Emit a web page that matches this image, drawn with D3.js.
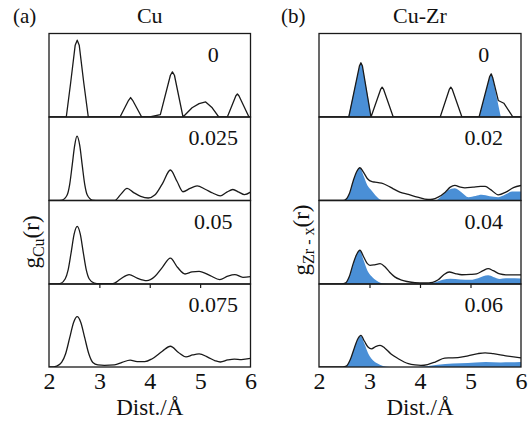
<!DOCTYPE html>
<html>
<head>
<meta charset="utf-8">
<script src="https://cdn.jsdelivr.net/npm/d3@7"></script>
<style>
  html, body { margin: 0; padding: 0; background: #fff; }
  svg { display: block; }
  text { font-family: "Liberation Serif", "Times New Roman", serif; fill: #111; }
</style>
</head>
<body>
<svg id="chart" width="531" height="424"></svg>
<script>
// ---- data: radial distribution functions, r in Å ----
const rDomain = [2, 6];
const xTicks = [2, 3, 4, 5, 6];

const cuLabels = ["0", "0.025", "0.05", "0.075"];
const cuZrLabels = ["0", "0.02", "0.04", "0.06"];

// g_Cu(r), one array per composition
const cuG0 = [[2,0],[2.343,0],[2.43,4.1],[2.52,8.6],[2.56,9.2],[2.6,8.6],[2.69,4.1],[2.78,0],[3.41,0],[3.58,2.0],[3.62,2.33],[3.66,2.0],[3.84,0],[4.0,0],[4.21,0.28],[4.41,5.0],[4.45,5.4],[4.49,5.0],[4.66,0],[4.84,1.1],[4.98,1.6],[5.11,1.8],[5.24,1.1],[5.37,0],[5.54,0],[5.71,2.55],[5.74,2.75],[5.77,2.55],[5.97,0],[6,0]];
const cuG1 = [[2,0],[2.15,0],[2.26,0.05],[2.36,0.65],[2.41,1.9],[2.46,4.2],[2.51,6.6],[2.556,7.7],[2.61,6.6],[2.66,4.2],[2.71,1.9],[2.76,0.65],[2.86,0.05],[3.0,0],[3.3,0],[3.42,0.7],[3.55,1.45],[3.68,0.95],[3.82,0.5],[3.97,0.3],[4.1,0.65],[4.25,2.0],[4.41,3.65],[4.54,2.3],[4.66,1.05],[4.8,1.45],[4.94,1.74],[5.1,1.35],[5.25,0.9],[5.4,0.55],[5.53,1.0],[5.65,1.32],[5.77,1.0],[5.88,0.7],[6.0,1.0]];
const cuG2 = [[2,0],[2.12,0],[2.22,0.05],[2.32,0.6],[2.38,1.7],[2.44,3.8],[2.5,6.0],[2.56,6.9],[2.62,6.0],[2.68,3.8],[2.74,1.7],[2.8,0.6],[2.9,0.1],[3.0,0.03],[3.27,0.05],[3.42,0.6],[3.59,1.13],[3.75,0.7],[3.94,0.4],[4.1,0.9],[4.25,2.0],[4.41,3.1],[4.55,2.0],[4.7,1.2],[4.84,1.45],[4.98,1.52],[5.2,1.0],[5.39,0.53],[5.55,0.95],[5.69,1.13],[5.85,0.8],[6.0,0.89]];
const cuG3 = [[2,0],[2.09,0],[2.15,0.1],[2.25,0.55],[2.33,1.6],[2.41,3.5],[2.49,5.4],[2.56,6.07],[2.63,5.4],[2.71,3.5],[2.79,1.6],[2.87,0.55],[2.97,0.25],[3.1,0.2],[3.3,0.25],[3.45,0.55],[3.61,0.84],[3.75,0.65],[3.9,0.65],[4.05,1.0],[4.25,1.9],[4.41,2.5],[4.57,1.75],[4.72,1.22],[4.85,1.45],[4.98,1.58],[5.15,1.2],[5.3,0.75],[5.4,0.6],[5.55,0.85],[5.68,0.96],[5.82,0.9],[6.0,1.03]];

// g_Zr-x(r): total (line) and partial contribution (filled)
const zrG0 = [[2,0],[2.59,0],[2.8,6.1],[2.83,6.5],[2.86,6.1],[3.03,0],[3.22,3.3],[3.25,3.57],[3.28,3.3],[3.47,0],[4.40,0],[4.58,3.3],[4.61,3.57],[4.64,3.3],[4.83,0],[5.17,0],[5.38,4.85],[5.41,5.17],[5.44,4.7],[5.55,1.98],[5.66,1.65],[5.84,0],[6,0]];
const zrP0 = [[2,0],[2.58,0],[2.8,6.1],[2.83,6.5],[2.86,6.1],[3.04,0],[5.17,0],[5.38,4.85],[5.41,5.17],[5.44,4.7],[5.5,2.9],[5.6,0],[6,0]];

const zrG1 = [[2,0],[2.45,0],[2.51,0.05],[2.6,0.8],[2.68,2.4],[2.75,3.5],[2.81,3.92],[2.88,3.4],[2.96,2.6],[3.05,2.25],[3.11,2.2],[3.24,2.07],[3.35,1.8],[3.47,1.4],[3.6,1.0],[3.77,0.72],[3.95,0.4],[4.16,0.12],[4.25,0.15],[4.36,0.4],[4.5,1.0],[4.6,1.6],[4.69,1.8],[4.8,1.6],[4.89,1.52],[5.05,1.6],[5.2,1.68],[5.29,1.68],[5.4,1.3],[5.55,0.68],[5.7,1.0],[5.85,1.55],[6.0,1.8]];
const zrP1 = [[2,0],[2.45,0],[2.51,0.05],[2.6,0.8],[2.68,2.4],[2.75,3.5],[2.81,3.88],[2.88,3.0],[2.96,1.8],[3.04,1.2],[3.12,0.6],[3.24,0.05],[3.4,0],[4.3,0],[4.4,0.4],[4.55,1.2],[4.69,1.47],[4.82,1.0],[4.96,0.4],[5.1,0.55],[5.22,0.68],[5.38,0.5],[5.55,0.4],[5.7,0.75],[5.82,1.08],[6.0,1.08]];

const zrG2 = [[2,0],[2.45,0],[2.52,0.1],[2.6,0.9],[2.68,2.5],[2.75,3.6],[2.81,4.04],[2.88,3.3],[2.95,2.5],[3.01,2.24],[3.1,2.3],[3.21,2.43],[3.3,2.1],[3.4,1.4],[3.5,0.85],[3.62,0.5],[3.74,0.3],[3.9,0.15],[4.1,0.12],[4.25,0.2],[4.36,0.5],[4.47,1.1],[4.58,1.44],[4.7,1.25],[4.83,1.11],[5.0,1.15],[5.12,1.22],[5.25,1.6],[5.35,1.83],[5.45,1.6],[5.58,1.2],[5.7,1.1],[6.0,1.1]];
const zrP2 = [[2,0],[2.45,0],[2.52,0.1],[2.6,0.9],[2.68,2.5],[2.75,3.6],[2.81,4.0],[2.88,2.9],[2.96,1.6],[3.04,0.92],[3.15,0.35],[3.28,0.05],[3.4,0],[4.15,0],[4.3,0.2],[4.45,0.5],[4.6,0.63],[4.8,0.55],[5.0,0.5],[5.15,0.7],[5.35,1.04],[5.45,0.85],[5.58,0.6],[5.7,0.68],[6.0,0.66]];

const zrG3 = [[2,0],[2.47,0],[2.54,0.1],[2.62,0.9],[2.7,2.3],[2.77,3.4],[2.83,3.8],[2.9,3.1],[2.97,2.4],[3.04,2.19],[3.12,2.45],[3.21,2.6],[3.3,2.3],[3.42,1.6],[3.57,1.0],[3.77,0.4],[3.9,0.25],[4.02,0.2],[4.15,0.3],[4.3,0.6],[4.49,1.08],[4.6,1.1],[4.75,1.13],[4.95,1.35],[5.15,1.62],[5.29,1.71],[5.45,1.6],[5.7,1.35],[6.0,1.11]];
const zrP3 = [[2,0],[2.47,0],[2.54,0.1],[2.62,0.9],[2.7,2.3],[2.77,3.4],[2.83,3.75],[2.9,2.8],[2.97,1.7],[3.04,1.0],[3.15,0.45],[3.28,0.1],[3.4,0],[3.95,0],[4.2,0.15],[4.5,0.35],[4.8,0.45],[5.1,0.55],[5.3,0.6],[5.6,0.55],[6.0,0.6]];

const cuTotals = [cuG0, cuG1, cuG2, cuG3];
const zrTotals = [zrG0, zrG1, zrG2, zrG3];
const zrPartials = [zrP0, zrP1, zrP2, zrP3];

// ---- layout ----
const svg = d3.select("#chart");
const panelEdges = [33.5, 117, 200.5, 284, 367];
const gDomain = [0, 10];
const fillBlue = "#4a8fd6";
const ink = "#1a1a1a";

function drawColumn(opts) {
  const x = d3.scaleLinear().domain(rDomain).range([opts.x0, opts.x1]);
  const col = svg.append("g");

  opts.totals.forEach((curve, i) => {
    const top = panelEdges[i], bottom = panelEdges[i + 1];
    const y = d3.scaleLinear().domain(gDomain).range([bottom, top]);
    const curveType = i === 0 ? d3.curveLinear : d3.curveMonotoneX;
    const clipId = `${opts.id}-clip-${i}`;

    col.append("clipPath").attr("id", clipId)
      .append("rect")
      .attr("x", opts.x0).attr("y", top)
      .attr("width", opts.x1 - opts.x0).attr("height", bottom - top);

    const p = col.append("g").attr("clip-path", `url(#${clipId})`);

    if (opts.partials) {
      const area = d3.area()
        .x(d => x(d[0])).y0(y(0)).y1(d => y(d[1]))
        .curve(curveType);
      p.append("path").datum(opts.partials[i])
        .attr("d", area)
        .attr("fill", fillBlue);
    }

    const line = d3.line().x(d => x(d[0])).y(d => y(d[1])).curve(curveType);
    p.append("path").datum(curve)
      .attr("d", line)
      .attr("fill", "none")
      .attr("stroke", ink)
      .attr("stroke-width", 1.3)
      .attr("stroke-linejoin", "round");

    // panel frame
    col.append("rect")
      .attr("x", opts.x0).attr("y", top)
      .attr("width", opts.x1 - opts.x0).attr("height", bottom - top)
      .attr("fill", "none")
      .attr("stroke", ink)
      .attr("stroke-width", 1.3);

    // composition label
    col.append("text")
      .attr("x", x(5.26))
      .attr("y", top + 28)
      .attr("text-anchor", "middle")
      .attr("font-size", 22)
      .text(opts.labels[i]);
  });

  // small ticks below the third panel
  const tickAxis = d3.axisBottom(x).tickValues([3, 4, 5]).tickSize(4).tickFormat("");
  const tg = col.append("g").attr("transform", `translate(0,${panelEdges[3]})`).call(tickAxis);
  tg.select(".domain").remove();
  tg.selectAll(".tick line").attr("stroke", ink).attr("stroke-width", 1.2);

  // tick labels on the bottom panel
  const axis = d3.axisBottom(x).tickValues(xTicks).tickSize(0).tickFormat(d3.format("d"));
  const ag = col.append("g").attr("transform", `translate(0,${panelEdges[4]})`).call(axis);
  ag.select(".domain").remove();
  ag.selectAll("text")
    .attr("dy", null)
    .attr("y", 21.5)
    .attr("font-family", "Liberation Serif, Times New Roman, serif")
    .attr("font-size", 24)
    .attr("fill", "#111");

  // x-axis title
  col.append("text")
    .attr("x", (opts.x0 + opts.x1) / 2)
    .attr("y", 415)
    .attr("text-anchor", "middle")
    .attr("font-size", 23)
    .text("Dist./Å");

  // column title and panel letter
  col.append("text")
    .attr("x", (opts.x0 + opts.x1) / 2)
    .attr("y", 23.3)
    .attr("text-anchor", "middle")
    .attr("font-size", 22)
    .text(opts.title);
  col.append("text")
    .attr("x", opts.letterX)
    .attr("y", 23)
    .attr("font-size", 21)
    .text(opts.letter);

  // y-axis title g_sub(r)
  const yl = col.append("text")
    .attr("transform", `translate(${opts.yLabelX},${opts.yLabelY}) rotate(-90)`)
    .attr("text-anchor", "middle")
    .attr("font-size", 23);
  yl.append("tspan").text("g");
  yl.append("tspan").attr("font-size", 16).attr("dy", 5).text(opts.sub);
  yl.append("tspan").attr("dy", -5).text("(r)");
}

drawColumn({
  id: "cu", x0: 49, x1: 250.5,
  totals: cuTotals, partials: null, labels: cuLabels,
  title: "Cu", letter: "(a)", letterX: 13,
  sub: "Cu", yLabelX: 39, yLabelY: 242
});

drawColumn({
  id: "cuzr", x0: 319, x1: 521,
  totals: zrTotals, partials: zrPartials, labels: cuZrLabels,
  title: "Cu-Zr", letter: "(b)", letterX: 281,
  sub: "Zr - x", yLabelX: 309, yLabelY: 240
});
</script>
</body>
</html>
